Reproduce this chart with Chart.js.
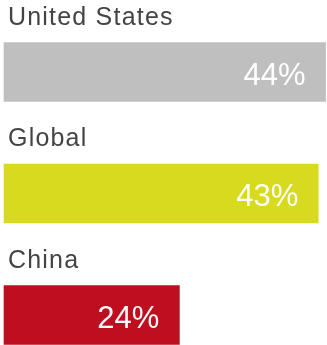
<!DOCTYPE html>
<html>
<head>
<meta charset="utf-8">
<script src="https://cdn.jsdelivr.net/npm/chart.js@4/dist/chart.umd.min.js"></script>
<style>
  html, body { margin: 0; padding: 0; background: #fff; }
  #wrap { width: 327px; height: 345px; position: relative; }
</style>
</head>
<body>
<div id="wrap"><canvas id="myBarChart"></canvas></div>
<script>
const regions = ["United States", "Global", "China"];
const shares = [44, 43, 24];
const barColors = ["#bfbfbf", "#d7da1f", "#be0e20"];

// draws the region name above each bar and the % inside its end
const barText = {
  id: "barText",
  afterDatasetsDraw(chart) {
    const ctx = chart.ctx;
    const meta = chart.getDatasetMeta(0);
    ctx.save();
    meta.data.forEach((bar, i) => {
      const top = bar.y - bar.height / 2;
      ctx.fillStyle = "#444444";
      ctx.font = "25px 'Liberation Sans', Arial, sans-serif";
      ctx.letterSpacing = "1.2px";
      ctx.textAlign = "left";
      ctx.textBaseline = "alphabetic";
      ctx.fillText(regions[i], 8, top - 18);

      ctx.fillStyle = "#ffffff";
      ctx.font = "31px 'Liberation Sans', Arial, sans-serif";
      ctx.letterSpacing = "0px";
      ctx.textAlign = "right";
      ctx.fillText(shares[i] + "%", bar.x - 20, bar.y + 12.5);
    });
    ctx.restore();
  }
};

const ctx1 = document.getElementById("myBarChart");

new Chart(ctx1, {
  type: "bar",
  data: {
    labels: regions,
    datasets: [
      {
        data: shares,
        backgroundColor: barColors,
        borderWidth: 0,
        barThickness: 59,
        clip: false,
      },
    ],
  },
  plugins: [barText],
  options: {
    responsive: true,
    maintainAspectRatio: false,
    animation: false,
    indexAxis: "y",
    layout: {
      padding: { left: 4, right: 0, top: 72, bottom: 30 }
    },
    plugins: {
      legend: { display: false },
      tooltip: { enabled: false }
    },
    scales: {
      x: {
        display: false,
        min: 0,
        max: 44.2
      },
      y: {
        display: false,
        offset: false
      },
    },
  },
});
</script>
</body>
</html>
